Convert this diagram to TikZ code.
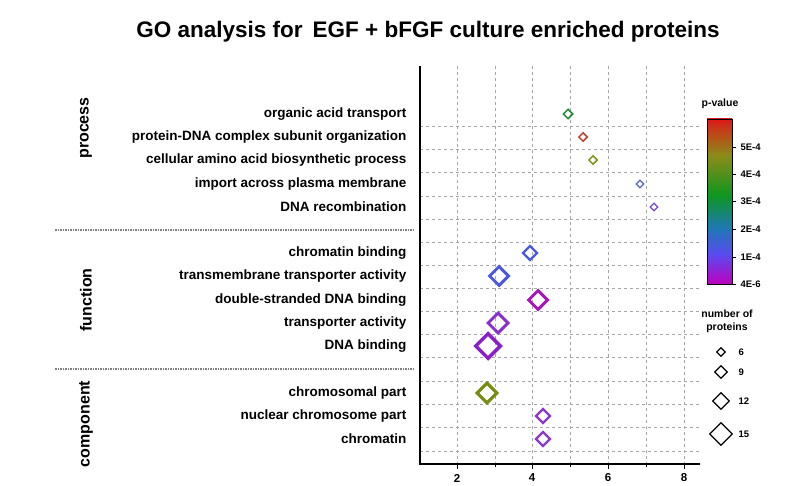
\documentclass[tikz,border=0pt]{standalone}
\usepackage{fontspec}
\setmainfont{Liberation Sans}
\usetikzlibrary{shapes.geometric}
\definecolor{pv0}{RGB}{190,0,190}
\definecolor{pv1}{RGB}{90,75,240}
\definecolor{pv2}{RGB}{30,120,180}
\definecolor{pv3}{RGB}{15,150,30}
\definecolor{pv4}{RGB}{140,140,25}
\definecolor{pv5}{RGB}{220,25,25}
\pgfdeclareverticalshading{pvalbar}{100bp}{%
  color(0bp)=(pv0);
  color(25bp)=(pv0);
  color(34bp)=(pv1);
  color(42bp)=(pv2);
  color(52bp)=(pv3);
  color(64bp)=(pv4);
  color(75bp)=(pv5);
  color(100bp)=(pv5)}
\tikzset{
  term/.style={anchor=east,font=\bfseries\fontsize{13.5}{15}\selectfont},
  category/.style={rotate=90,font=\bfseries\fontsize{16}{18}\selectfont},
  gridline/.style={gray!70,dashed,line width=0.5pt},
  marker/.style={diamond,draw,inner sep=0pt,aspect=1},
  ticklabel/.style={font=\bfseries\fontsize{9.5}{11}\selectfont,anchor=west}
}
\begin{document}
\begin{tikzpicture}[x=1pt,y=-1pt]
	\useasboundingbox (0,0) rectangle (798,486);
	\node (title) at (428,32) {\bfseries\fontsize{22.5}{26}\selectfont GO analysis for\, EGF + bFGF culture enriched proteins};
	% grid
	\foreach \gx in {457,495,532,570,608,646,684}
		\draw[gridline] (\gx,66) -- (\gx,464);
	\foreach \gy in {126,149,172,196,219,242,265,288,311,334,357,381,404,427,451}
		\draw[gridline] (420,\gy) -- (700,\gy);
	% axes
	\draw[line width=1.3pt] (420,66) -- (420,464) -- (700,464);
	\foreach \gx/\lab in {457/2,532/4,608/6,684/8} {
		\draw[line width=1pt] (\gx,464) -- (\gx,469);
		\node[font=\bfseries\fontsize{11.5}{13}\selectfont] at (\gx,478) {\lab};
	}
	\foreach \gx in {495,570,646}
		\draw[line width=1pt] (\gx,464) -- (\gx,467);
	% separators
	\draw[gray,line width=1.5pt,densely dotted] (55,230) -- (415,230);
	\draw[gray,line width=1.5pt,densely dotted] (55,369) -- (415,369);
	% categories
	\node[category] (process) at (86,128) {process};
	\node[category] (function) at (86,300) {function};
	\node[category] (component) at (86,424) {component};
	% terms
	\node[term] (t1) at (410,114) {organic acid transport};
	\node[term] (t2) at (410,137) {protein-DNA complex subunit organization};
	\node[term] (t3) at (410,160) {cellular amino acid biosynthetic process};
	\node[term] (t4) at (410,184) {import across plasma membrane};
	\node[term] (t5) at (410,207) {DNA recombination};
	\node[term] (t6) at (410,253) {chromatin binding};
	\node[term] (t7) at (410,276) {transmembrane transporter activity};
	\node[term] (t8) at (410,300) {double-stranded DNA binding};
	\node[term] (t9) at (410,323) {transporter activity};
	\node[term] (t10) at (410,346) {DNA binding};
	\node[term] (t11) at (410,393) {chromosomal part};
	\node[term] (t12) at (410,416) {nuclear chromosome part};
	\node[term] (t13) at (410,439) {chromatin};
	% markers
\definecolor{c1}{RGB}{30,140,50}
\definecolor{c2}{RGB}{195,60,45}
\definecolor{c3}{RGB}{130,140,30}
\definecolor{c4}{RGB}{85,95,220}
\definecolor{c5}{RGB}{120,70,210}
\definecolor{c6}{RGB}{75,90,220}
\definecolor{c8}{RGB}{170,20,190}
\definecolor{c9}{RGB}{140,45,205}
\definecolor{c10}{RGB}{140,30,200}
\definecolor{c11}{RGB}{120,140,20}
\definecolor{c12}{RGB}{140,55,205}
	\node[marker,c1,line width=1.5pt,minimum size=10pt] (m1) at (568,114) {};
	\node[marker,c2,line width=1.5pt,minimum size=9pt] (m2) at (583,137) {};
	\node[marker,c3,line width=1.5pt,minimum size=9pt] (m3) at (593,160) {};
	\node[marker,c4,line width=1.3pt,minimum size=8pt] (m4) at (640,184) {};
	\node[marker,c5,line width=1.3pt,minimum size=8pt] (m5) at (654,207) {};
	\node[marker,c6,line width=2.2pt,minimum size=15pt] (m6) at (530,253) {};
	\node[marker,c6,line width=3pt,minimum size=20pt] (m7) at (499,276) {};
	\node[marker,c8,line width=3pt,minimum size=20pt] (m8) at (538,300) {};
	\node[marker,c9,line width=3pt,minimum size=21pt] (m9) at (498,323) {};
	\node[marker,c10,line width=3.5pt,minimum size=26pt] (m10) at (488,346) {};
	\node[marker,c11,line width=3.2pt,minimum size=21pt] (m11) at (487,393) {};
	\node[marker,c12,line width=2.2pt,minimum size=15pt] (m12) at (543,416) {};
	\node[marker,c12,line width=2.2pt,minimum size=15pt] (m13) at (543,439) {};
	% p-value legend
	\node[font=\bfseries\fontsize{10.5}{12}\selectfont] (ptitle) at (720,104) {p-value};
	\shade[shading=pvalbar] (707,119) rectangle (732,284);
	\draw[line width=0.7pt] (707,119) rectangle (732,284);
	\foreach \ty/\lab in {147/5E-4,174/4E-4,201/3E-4,229/2E-4,257/1E-4,284/4E-6} {
		\draw[line width=0.7pt] (732,\ty) -- (736,\ty);
		\node[ticklabel] at (737,\ty) {\lab};
	}
	% size legend
	\node[font=\bfseries\fontsize{10.5}{13}\selectfont,align=center] (stitle) at (727,321) {number of\\proteins};
	\foreach \sy/\sz/\lab in {352/9/6,372/13/9,401/17/12,434/23/15} {
		\node[marker,black,line width=1.2pt,minimum size=\sz pt] at (721,\sy) {};
		\node[ticklabel] at (735,\sy) {\lab};
	}
\end{tikzpicture}
\end{document}
